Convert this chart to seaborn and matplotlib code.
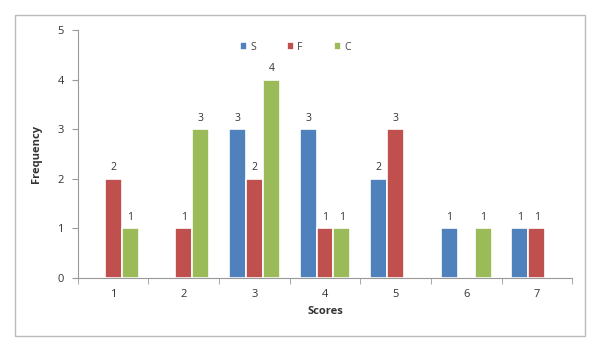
import matplotlib
matplotlib.use("Agg")
import matplotlib.pyplot as plt
import seaborn as sns
import pandas as pd
from matplotlib.patches import Rectangle

scores = ["1", "2", "3", "4", "5", "6", "7"]
series_names = ["S", "F", "C"]
S_vals = [0, 0, 3, 3, 2, 1, 1]
F_vals = [2, 1, 2, 1, 3, 0, 1]
C_vals = [1, 3, 4, 1, 0, 1, 0]
colors = ["#4F81BD", "#C0504D", "#9BBB59"]

rows = []
for name, vals in zip(series_names, [S_vals, F_vals, C_vals]):
    for s, v in zip(scores, vals):
        rows.append({"Scores": s, "Series": name, "Frequency": v})
df = pd.DataFrame(rows)

sns.set_style("white")
plt.rcParams["font.family"] = ["Open Sans", "DejaVu Sans"]

fig = plt.figure(figsize=(6.03, 3.52), dpi=100)
ax = fig.add_axes([0.129, 0.21, 0.82, 0.705])

sns.barplot(data=df, x="Scores", y="Frequency", hue="Series",
            palette=colors, saturation=1, width=0.72, edgecolor="white", linewidth=1.2,
            ax=ax, errorbar=None)

for cont, vals in zip(ax.containers, [S_vals, F_vals, C_vals]):
    labels = [str(v) if v > 0 else "" for v in vals]
    ax.bar_label(cont, labels=labels, padding=4, fontsize=7.5, color="#333333")

ax.set_ylim(0, 5)
ax.set_xlim(-0.5, 6.5)
ax.set_yticks(range(0, 6))
ax.set_xticks([i - 0.5 for i in range(8)], minor=True)
ax.tick_params(axis="x", which="major", length=0, labelsize=8, pad=8, colors="#333333")
ax.tick_params(axis="x", which="minor", length=4, color="#999999", direction="out", bottom=True)
ax.tick_params(axis="y", length=4, color="#999999", direction="out", left=True, labelsize=8, pad=6, colors="#333333")

for sp in ["top", "right"]:
    ax.spines[sp].set_visible(False)
for sp in ["left", "bottom"]:
    ax.spines[sp].set_color("#999999")
    ax.spines[sp].set_linewidth(0.8)

ax.set_xlabel("Scores", fontsize=8, fontweight="bold", color="#333333", labelpad=4)
ax.set_ylabel("Frequency", fontsize=8, fontweight="bold", color="#333333", labelpad=11)

leg = ax.legend(loc="upper center", bbox_to_anchor=(0.44, 0.99), ncol=3, frameon=False,
                fontsize=7.5, handlelength=0.7, handleheight=0.7, columnspacing=3.0,
                handletextpad=0.3)
for t in leg.get_texts():
    t.set_color("#444444")

fig.patches.append(Rectangle((15 / 603, 1 - 336 / 352), (585 - 15) / 603, (336 - 15) / 352,
                             transform=fig.transFigure, fill=False,
                             edgecolor="#BBBBBB", linewidth=1.0))

fig.savefig("out.png", dpi=100)
